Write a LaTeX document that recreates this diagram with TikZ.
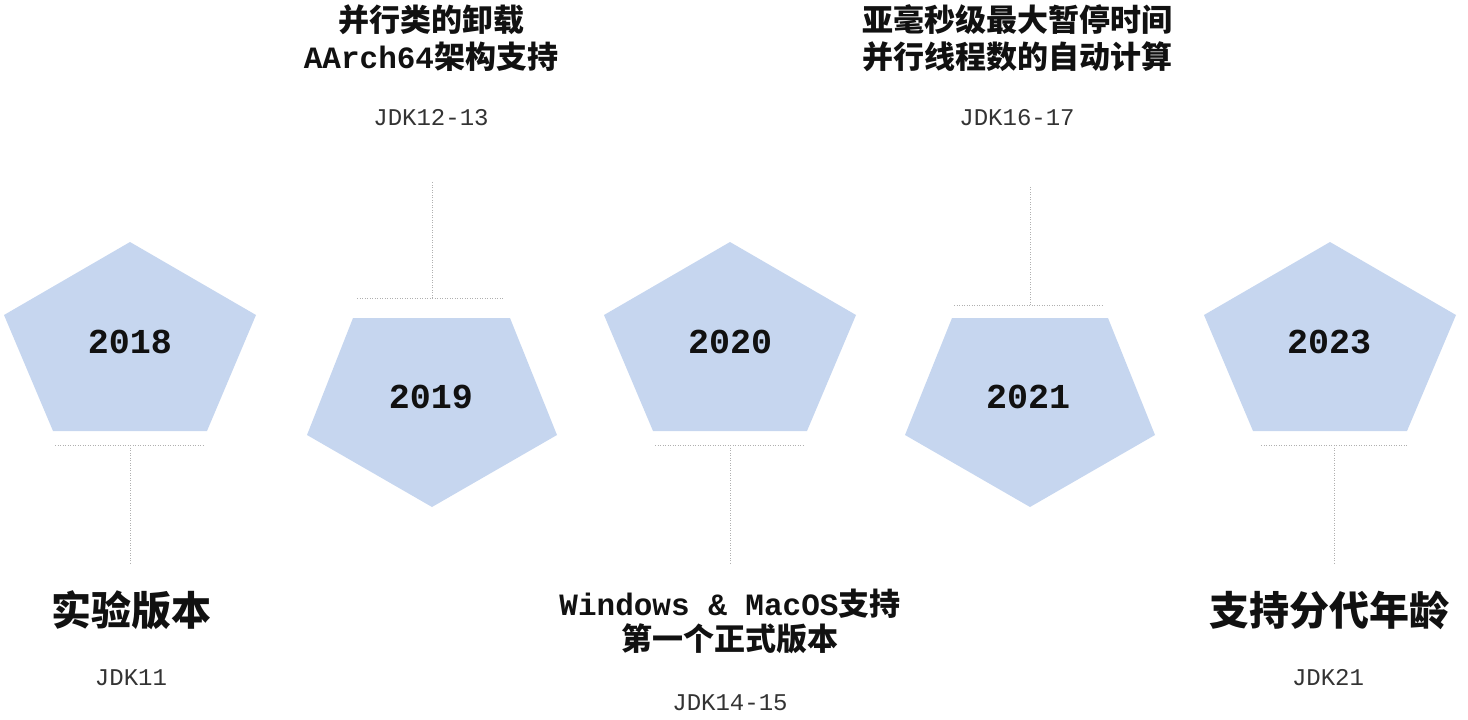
\documentclass[tikz,border=0pt]{standalone}
\usepackage{fontspec}
\newfontfamily\cjkfont{Noto Sans CJK SC}
\newfontfamily\codefont{Liberation Mono}
\definecolor{penta}{HTML}{C6D6EF}
\definecolor{leader}{HTML}{B0B0B0}
\definecolor{ink}{HTML}{111111}
\definecolor{jdkgray}{HTML}{333333}
\tikzset{
  pentagon/.style={fill=penta, draw=none},
  leaderline/.style={draw=leader, line width=1pt, dash pattern=on 1pt off 1.5pt},
  year/.style={anchor=base, inner sep=0pt, text=ink, font=\codefont\bfseries\fontsize{35}{35}\selectfont},
  title/.style={anchor=base, inner sep=0pt, text=ink, font=\bfseries\fontsize{31}{31}\selectfont},
  bigtitle/.style={anchor=base, inner sep=0pt, text=ink, font=\cjkfont\bfseries\fontsize{40}{40}\selectfont},
  jdk/.style={anchor=base, inner sep=0pt, text=jdkgray, font=\codefont\fontsize{24}{24}\selectfont}
}
\begin{document}
\begin{tikzpicture}[x=1pt, y=-1pt]
                        \useasboundingbox (0,0) rectangle (1468,720);

                        % Drawing pentagon 2018
                        \fill [pentagon] (130,242) -- (256,315) -- (207,431) -- (53,431) -- (4,315) -- cycle;%
                        \node [year] (y2018) at (130,353) {2018};%

                        % Drawing pentagon 2019
                        \fill [pentagon] (353,318) -- (510,318) -- (557,435) -- (432,507) -- (307,435) -- cycle;%
                        \node [year] (y2019) at (431,408) {2019};%

                        % Drawing pentagon 2020
                        \fill [pentagon] (730,242) -- (856,315) -- (807,431) -- (653,431) -- (604,315) -- cycle;%
                        \node [year] (y2020) at (730,353) {2020};%

                        % Drawing pentagon 2021
                        \fill [pentagon] (952,318) -- (1108,318) -- (1155,435) -- (1030,507) -- (905,435) -- cycle;%
                        \node [year] (y2021) at (1028,408) {2021};%

                        % Drawing pentagon 2023
                        \fill [pentagon] (1330,242) -- (1456,315) -- (1407,431) -- (1253,431) -- (1204,315) -- cycle;%
                        \node [year] (y2023) at (1329,353) {2023};%

                        % Drawing leader 2018
                        \coordinate (l2018a) at (55,445);
                        \coordinate (l2018b) at (203,445);
                        \coordinate (m2018) at (130,445);
                        \coordinate (e2018) at (130,563);
                        \draw [leaderline] (l2018a) -- (l2018b);%
                        \draw [leaderline] (m2018) -- (e2018);%

                        % Drawing leader 2019
                        \coordinate (l2019a) at (357,298);
                        \coordinate (l2019b) at (503,298);
                        \coordinate (m2019) at (432,298);
                        \coordinate (e2019) at (432,182);
                        \draw [leaderline] (l2019a) -- (l2019b);%
                        \draw [leaderline] (m2019) -- (e2019);%

                        % Drawing leader 2020
                        \coordinate (l2020a) at (655,445);
                        \coordinate (l2020b) at (805,445);
                        \coordinate (m2020) at (730,445);
                        \coordinate (e2020) at (730,563);
                        \draw [leaderline] (l2020a) -- (l2020b);%
                        \draw [leaderline] (m2020) -- (e2020);%

                        % Drawing leader 2021
                        \coordinate (l2021a) at (954,305);
                        \coordinate (l2021b) at (1103,305);
                        \coordinate (m2021) at (1030,305);
                        \coordinate (e2021) at (1030,187);
                        \draw [leaderline] (l2021a) -- (l2021b);%
                        \draw [leaderline] (m2021) -- (e2021);%

                        % Drawing leader 2023
                        \coordinate (l2023a) at (1261,445);
                        \coordinate (l2023b) at (1407,445);
                        \coordinate (m2023) at (1334,445);
                        \coordinate (e2023) at (1334,563);
                        \draw [leaderline] (l2023a) -- (l2023b);%
                        \draw [leaderline] (m2023) -- (e2023);%

                        % Marking texts 2018
                        \node [bigtitle] (t2018) at (131,625) {实验版本};%
                        \node [jdk] (jdk2018) at (131,685) {JDK11};%

                        % Marking texts 2019
                        \node [title] (t2019a) at (431,31) {\cjkfont 并行类的卸载};%
                        \node [title] (t2019b) at (431,68) {{\codefont AArch64}{\cjkfont 架构支持}};%
                        \node [jdk] (jdk2019) at (431,125) {JDK12-13};%

                        % Marking texts 2020
                        \node [title] (t2020a) at (730,615) {{\codefont Windows \& MacOS}{\cjkfont 支持}};%
                        \node [title] (t2020b) at (730,650) {\cjkfont 第一个正式版本};%
                        \node [jdk] (jdk2020) at (730,710) {JDK14-15};%

                        % Marking texts 2021
                        \node [title] (t2021a) at (1017,31) {\cjkfont 亚毫秒级最大暂停时间};%
                        \node [title] (t2021b) at (1017,68) {\cjkfont 并行线程数的自动计算};%
                        \node [jdk] (jdk2021) at (1017,125) {JDK16-17};%

                        % Marking texts 2023
                        \node [bigtitle] (t2023) at (1329,625) {支持分代年龄};%
                        \node [jdk] (jdk2023) at (1328,685) {JDK21};%
                    \end{tikzpicture}
\end{document}
